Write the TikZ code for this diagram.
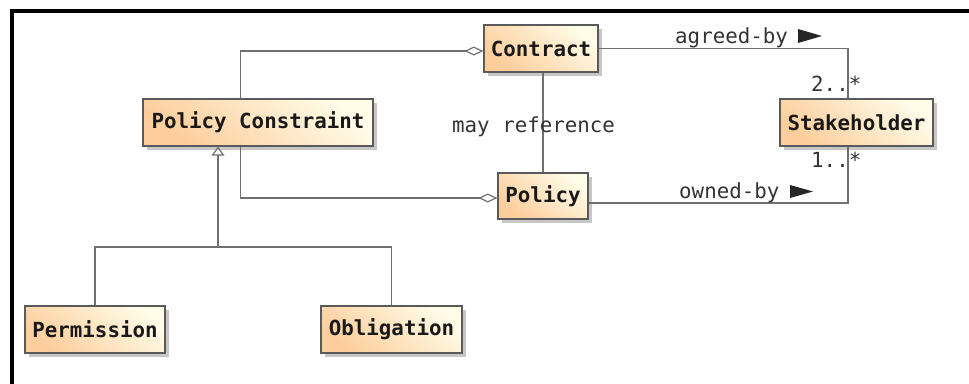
\documentclass[tikz,border=0pt]{standalone}
\usepackage{fontspec}
\setmonofont{DejaVu Sans Mono}
\usetikzlibrary{arrows.meta,shadows,calc}
\definecolor{boxor}{HTML}{FDCD9B}
\definecolor{boxcr}{HTML}{FFFCE8}
\definecolor{edgec}{HTML}{707070}
\definecolor{boxline}{HTML}{5A5A5A}
\begin{document}
\begin{tikzpicture}[x=1pt,y=-1pt,
  cls/.style={draw=boxline, line width=1.3pt, bottom color=boxor, top color=boxcr, shading angle=-40,
    font=\ttfamily\bfseries\fontsize{20.8}{24}\selectfont, text=black!90,
    minimum height=47pt, inner xsep=6pt, inner ysep=0pt,
    drop shadow={shadow xshift=4pt, shadow yshift=-4pt, fill=black, opacity=0.22}},
  conn/.style={draw=edgec, line width=1.4pt},
  lbl/.style={font=\ttfamily\fontsize{20.8}{24}\selectfont, text=black!80, inner sep=0pt},
  agg/.style={conn, {Diamond[open, length=19pt, width=9pt, line width=1.2pt]}-},
  gen/.style={conn, -{Triangle[open, length=9pt, width=13pt, line width=1.2pt]}},
]
\useasboundingbox (0,0) rectangle (969,383);
\fill[white] (0,0) rectangle (969,383);
\draw[line width=4pt] (11.5,390) -- (11.5,10.5) -- (975,10.5);

\node[cls, minimum width=114pt] (contract) at (541,48.5) {Contract};
\node[cls, minimum width=90pt, minimum height=46pt] (policy) at (543,196) {Policy};
\node[cls, minimum width=230pt] (pc) at (258,122.5) {Policy Constraint};
\node[cls, minimum width=153pt] (stake) at (856.5,122.5) {Stakeholder};
\node[cls, minimum width=140pt] (perm) at (95,329.5) {Permission};
\node[cls, minimum width=141pt] (obl) at (391.5,329.5) {Obligation};

% aggregations
\draw[agg] ($(contract.west)+(0,2.5)$) -| ($(pc.north west)+(98,0)$);
\draw[agg] ($(policy.west)+(0,2)$) -| ($(pc.south west)+(98,0)$);

% generalization
\coordinate (g) at (218,247);
\draw[gen] (g) -- (g |- pc.south);
\draw[conn] (perm.north) |- (g) -| (obl.north);

% may reference
\draw[conn] (contract.south -| policy.north) -- (policy.north);
\node[lbl, anchor=base west] (mayref) at (452,132) {may reference};

% associations to stakeholder
\draw[conn] (contract.east) -| ($(stake.north)+(-8.5,0)$);
\draw[conn] ($(policy.east)+(0,7)$) -| ($(stake.south)+(-8.5,0)$);
\node[lbl, anchor=base west] (agreed) at (675,43) {agreed-by};
\fill[black!85] (798,29) -- (822,36) -- (798,43) -- cycle;
\node[lbl, anchor=base west] (owned) at (679,198) {owned-by};
\fill[black!85] (790,185) -- (813,191.5) -- (790,198) -- cycle;
\node[lbl, anchor=base west] (m2) at (811,91) {2..*};
\node[lbl, anchor=base west] (m1) at (811,167) {1..*};
\end{tikzpicture}
\end{document}
